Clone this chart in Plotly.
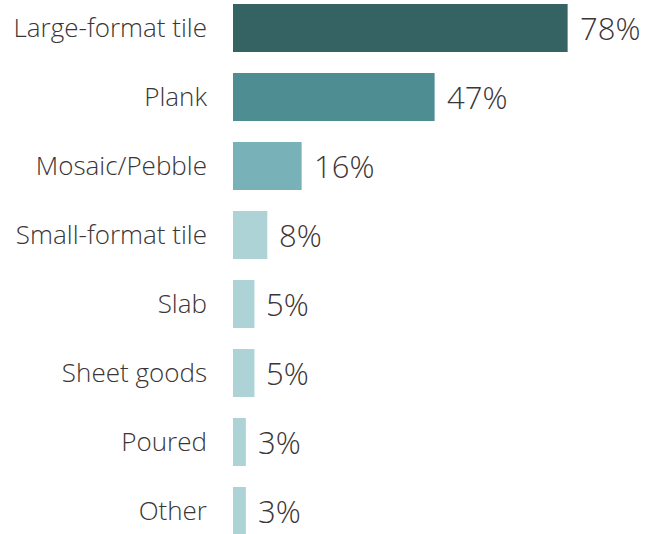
import plotly.graph_objects as go

categories = ["Large-format tile", "Plank", "Mosaic/Pebble", "Small-format tile",
              "Slab", "Sheet goods", "Poured", "Other"]
values = [78, 47, 16, 8, 5, 5, 3, 3]
value_labels = ["78%", "47%", "16%", "8%", "5%", "5%", "3%", "3%"]
bar_colors = ["#356263", "#4E8E93", "#78B1B8", "#AED3D7", "#AED3D7",
              "#AED3D7", "#AED3D7", "#AED3D7"]

TEXT = "#3b3535"
FONT = "Open Sans"

fig = go.Figure(go.Bar(
    x=values, y=categories, orientation="h",
    marker=dict(color=bar_colors, line=dict(width=0)),
    hoverinfo="skip",
))

for c, v, t in zip(categories, values, value_labels):
    fig.add_annotation(x=v, y=c, text=t, showarrow=False, xanchor="left",
                       xshift=10, yanchor="middle",
                       font=dict(family=FONT, size=31, color=TEXT, weight=300))

fig.update_layout(
    width=653, height=534,
    margin=dict(l=233, r=0, t=0, b=0),
    paper_bgcolor="white", plot_bgcolor="white",
    bargap=0.304, showlegend=False,
    font=dict(family=FONT, color=TEXT),
)
fig.update_xaxes(range=[0, 97.9], visible=False, fixedrange=True)
fig.update_yaxes(type="category", range=[7.333, -0.406], showgrid=False,
                 zeroline=False, showline=False, ticks="",
                 ticklabelstandoff=25, automargin=False,
                 tickfont=dict(family=FONT, size=26, color=TEXT, weight=300))

fig.write_html("out.html", config={"displayModeBar": False},
               post_script="document.body.style.margin='0';document.body.style.padding='0';")
